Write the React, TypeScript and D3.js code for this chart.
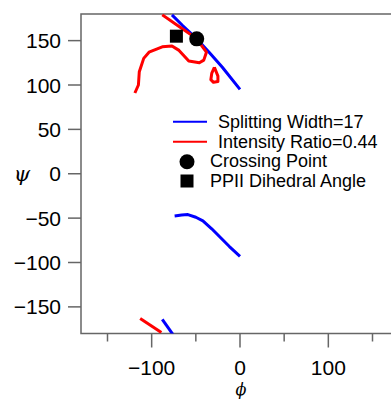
import React from "react";
import * as d3 from "d3";

type Pt = [number, number];

// Splitting Width = 17 contour (phi, psi)
const splitTop: Pt[] = [[-77, 179], [-65, 167], [-49, 152], [-35, 137], [-20, 120], [0, 95]];
const splitMid: Pt[] = [[-74, -47.5], [-66, -46.5], [-59, -46], [-50, -49], [-42, -53], [-32, -62], [-23, -71], [-12, -82], [0, -93]];
const splitBot: Pt[] = [[-88, -164], [-76, -181]];

// Intensity Ratio = 0.44 contour
const ratioMain: Pt[] = [[-88, 179], [-69, 166], [-50, 153], [-38, 137], [-41, 128], [-46, 125], [-58, 127], [-69, 139], [-77, 144], [-88, 143], [-103, 137], [-109, 130], [-114, 115], [-115, 100], [-119, 91]];
const ratioLoop: Pt[] = [[-29, 120], [-32, 113], [-33, 106], [-30, 103], [-25, 104], [-25, 110], [-29, 120]];
const ratioBot: Pt[] = [[-113, -163], [-89, -179]];

const crossing: Pt = [-49, 152];
const ppii: Pt = [-72, 155];

const xTicks = [-150, -100, -50, 0, 50, 100, 150];
const xLabels = [-100, 0, 100];
const yTicks = [150, 100, 50, 0, -50, -100, -150];

const legendItems = ["Splitting Width=17", "Intensity Ratio=0.44", "Crossing Point", "PPII Dihedral Angle"];

const App = () => {
  const W = 391, H = 400;
  const x = d3.scaleLinear().domain([-180, 180]).range([81, 399]);
  const y = d3.scaleLinear().domain([-180, 180]).range([333.5, 14]);
  const line = d3.line<Pt>().x(d => x(d[0])).y(d => y(d[1]));
  const fmt = (v: number) => (v < 0 ? "\u2212" + Math.abs(v) : String(v));
  const axisColor = "#666";
  const font = "'Liberation Sans', Arial, sans-serif";

  return (
    <svg width={W} height={H} style={{ position: "absolute", left: 0, top: 0, background: "white" }}>
      <defs>
        <clipPath id="plot">
          <rect x={x(-180)} y={y(180)} width={x(180) - x(-180)} height={y(-180) - y(180)} />
        </clipPath>
      </defs>

      {/* frame */}
      <rect x={x(-180)} y={y(180)} width={x(180) - x(-180)} height={y(-180) - y(180)} fill="none" stroke={axisColor} strokeWidth={1.5} />

      {/* x ticks */}
      {xTicks.map(t => (
        <line key={"xt" + t} x1={x(t)} x2={x(t)} y1={y(-180)} y2={y(-180) + (xLabels.includes(t) ? 14 : 8)} stroke={axisColor} strokeWidth={1.5} />
      ))}
      {xLabels.map(t => (
        <text key={"xl" + t} x={x(t)} y={375} textAnchor="middle" fontFamily={font} fontSize={21}>{fmt(t)}</text>
      ))}

      {/* y ticks */}
      {yTicks.map(t => (
        <g key={"yt" + t}>
          <line x1={x(-180) - 13} x2={x(-180)} y1={y(t)} y2={y(t)} stroke={axisColor} strokeWidth={1.5} />
          <text x={61} y={y(t) + 7.5} textAnchor="end" fontFamily={font} fontSize={21}>{fmt(t)}</text>
        </g>
      ))}

      <text x={22} y={181} textAnchor="middle" fontFamily="'DejaVu Serif', serif" fontStyle="italic" fontSize={21}>ψ</text>
      <text x={241} y={395} textAnchor="middle" fontFamily="'DejaVu Serif', serif" fontStyle="italic" fontSize={16}>ϕ</text>

      <g clipPath="url(#plot)" fill="none" strokeWidth={3} strokeLinejoin="round">
        {[splitTop, splitMid, splitBot].map((s, i) => (
          <path key={"b" + i} d={line(s) || ""} stroke="#0000ff" />
        ))}
        {[ratioMain, ratioLoop, ratioBot].map((s, i) => (
          <path key={"r" + i} d={line(s) || ""} stroke="#ff0000" />
        ))}
      </g>

      <circle cx={x(crossing[0])} cy={y(crossing[1])} r={7.5} fill="black" />
      <rect x={x(ppii[0]) - 6.5} y={y(ppii[1]) - 6.5} width={13} height={13} fill="black" />

      {/* legend */}
      <line x1={173} x2={207} y1={121.7} y2={121.7} stroke="#0000ff" strokeWidth={2} />
      <line x1={173} x2={207} y1={141.7} y2={141.7} stroke="#ff0000" strokeWidth={2} />
      <circle cx={187} cy={161.7} r={7.5} fill="black" />
      <rect x={180.5} y={174.5} width={13} height={13} fill="black" />
      {legendItems.map((t, i) => (
        <text key={t} x={i < 2 ? 218 : 210} y={128 + i * 19.5} fontFamily={font} fontSize={18}>{t}</text>
      ))}
    </svg>
  );
};

export default App;
